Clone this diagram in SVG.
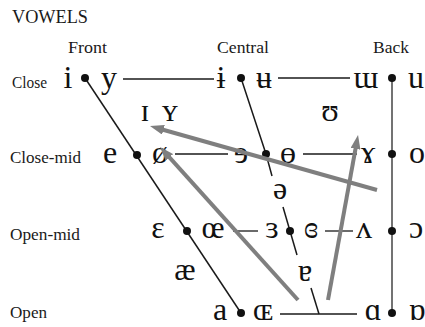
<svg xmlns="http://www.w3.org/2000/svg" width="425" height="327" viewBox="0 0 425 327">
<style>
.lbl{font-size:16px;fill:#1a1a1a}
.ttl{font-size:18px;fill:#1a1a1a}
.v{font-size:32px;fill:#111;text-anchor:middle}
.dot{fill:#111}
.ln{stroke:#1a1a1a;stroke-width:1.5;fill:none}
.hz{stroke:#1a1a1a;stroke-width:1.3;fill:none}
.bk{stroke:#444;stroke-width:1.5;fill:none}
.ar{stroke:#7f7f7f;stroke-width:4;fill:none;marker-end:url(#ah)}
</style>
<defs>
<marker id="ah" viewBox="0 0 14 10" refX="6" refY="5" markerWidth="14" markerHeight="10" markerUnits="userSpaceOnUse" orient="auto">
<path d="M0,0 L14,5 L0,10 z" fill="#7f7f7f"/>
</marker>
</defs>
<rect width="425" height="327" fill="#fff"/>
<g id="labels" font-family="'Liberation Serif', 'DejaVu Serif', serif">
<text class="ttl" x="12" y="23" textLength="76" lengthAdjust="spacingAndGlyphs">VOWELS</text>
<text class="lbl" x="68" y="53" textLength="39" lengthAdjust="spacingAndGlyphs">Front</text>
<text class="lbl" x="217" y="53" textLength="52" lengthAdjust="spacingAndGlyphs">Central</text>
<text class="lbl" x="373" y="53" textLength="36" lengthAdjust="spacingAndGlyphs">Back</text>
<text class="lbl" x="12" y="88" textLength="35" lengthAdjust="spacingAndGlyphs">Close</text>
<text class="lbl" x="10" y="163" textLength="71" lengthAdjust="spacingAndGlyphs">Close-mid</text>
<text class="lbl" x="10" y="240" textLength="70" lengthAdjust="spacingAndGlyphs">Open-mid</text>
<text class="lbl" x="10" y="318" textLength="37" lengthAdjust="spacingAndGlyphs">Open</text>
</g>
<g id="connectors">
<path class="ln" d="M85,78 L241,313"/>
<path class="ln" d="M241,78 L266,154 L272,176"/>
<path class="ln" d="M283,207 L290,231 L297,255"/>
<path class="ln" d="M311,288 L319,314"/>
<path class="bk" d="M392,78 L392,313"/>
<path class="hz" d="M123,79 L214,79"/>
<path class="hz" d="M278,78 L350,78"/>
<path class="hz" d="M175,154 L228,154"/>
<path class="hz" d="M303,154 L357,154"/>
<path class="hz" d="M233,231 L258,231"/>
<path class="hz" d="M325,231 L353,231"/>
<path class="hz" d="M280,314 L357,314"/>
</g>
<g font-family="'Liberation Serif', 'DejaVu Serif', serif">
<g id="close-front"><text class="v" x="68" y="88">i</text><circle class="dot" cx="85" cy="78" r="4"/><text class="v" x="109" y="88">y</text></g>
<g id="close-central"><text class="v" x="221" y="88">ɨ</text><circle class="dot" cx="241" cy="78" r="4"/><text class="v" x="264" y="88">ʉ</text></g>
<g id="close-back"><text class="v" x="366" y="88">ɯ</text><circle class="dot" cx="392" cy="78" r="4"/><text class="v" x="416" y="88">u</text></g>
<g id="near-close-front"><text class="v" x="145" y="121">ɪ</text><text class="v" x="170" y="121">ʏ</text></g>
<g id="near-close-back"><text class="v" x="330" y="121">ʊ</text></g>
<g id="close-mid-front"><text class="v" x="110" y="163">e</text><circle class="dot" cx="137" cy="155" r="4"/><text class="v" x="160" y="163">ø</text></g>
<g id="close-mid-central"><text class="v" x="241" y="163">ɘ</text><circle class="dot" cx="266" cy="154" r="4"/><text class="v" x="288" y="163">ɵ</text></g>
<g id="close-mid-back"><text class="v" x="368" y="163">ɤ</text><circle class="dot" cx="392" cy="154" r="4"/><text class="v" x="417" y="163">o</text></g>
<g id="mid-central"><text class="v" x="280" y="199">ə</text></g>
<g id="open-mid-front"><text class="v" x="158" y="238">ɛ</text><circle class="dot" cx="187" cy="231" r="4"/><text class="v" x="213" y="238">œ</text></g>
<g id="open-mid-central"><text class="v" x="272" y="238">ɜ</text><circle class="dot" cx="290" cy="231" r="4"/><text class="v" x="311" y="238">ɞ</text></g>
<g id="open-mid-back"><text class="v" x="364" y="238">ʌ</text><circle class="dot" cx="392" cy="231" r="4"/><text class="v" x="416" y="238">ɔ</text></g>
<g id="near-open-front"><text class="v" x="185" y="280">æ</text></g>
<g id="near-open-central"><text class="v" x="305" y="281">ɐ</text></g>
<g id="open-front"><text class="v" x="220" y="320">a</text><circle class="dot" cx="241" cy="313" r="4"/><text class="v" x="263" y="320">ɶ</text></g>
<g id="open-back"><text class="v" x="373" y="320">ɑ</text><circle class="dot" cx="392" cy="313" r="4"/><text class="v" x="417" y="320">ɒ</text></g>
</g>
<g id="arrows">
<path class="ar" d="M377,190 L157.7,128.2"/>
<path class="ar" d="M298,300 L165.4,152.9"/>
<path class="ar" d="M328,300 L356.6,142.9"/>
</g>
</svg>
